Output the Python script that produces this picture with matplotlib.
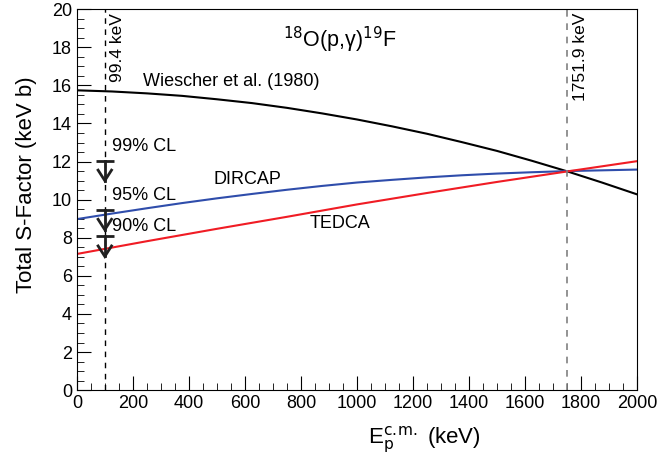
import matplotlib.pyplot as plt
import numpy as np
from matplotlib.ticker import MultipleLocator

plt.rcParams['font.family'] = ['Liberation Sans', 'DejaVu Sans']

# curves
e_wiescher = [0, 125, 250, 375, 500, 625, 750, 875, 1000, 1125, 1250, 1375, 1500, 1625, 1750, 1875, 2000]
s_wiescher = [15.74, 15.68, 15.58, 15.45, 15.27, 15.07, 14.82, 14.53, 14.21, 13.85, 13.46, 13.02,
              12.56, 12.04, 11.49, 10.90, 10.28]

e_dircap = [0, 125, 250, 375, 500, 625, 750, 875, 1000, 1125, 1250, 1375, 1500, 1625, 1750, 1875, 2000]
s_dircap = [8.98, 9.27, 9.55, 9.82, 10.07, 10.3, 10.52, 10.72, 10.9, 11.04, 11.17, 11.28,
            11.37, 11.44, 11.5, 11.54, 11.58]

e_tedca = [0, 250, 500, 750, 1000, 1250, 1500, 1750, 2000]
s_tedca = [7.15, 7.82, 8.47, 9.1, 9.75, 10.35, 10.93, 11.48, 12.02]

# upper limits at 99.4 keV
cl_names = ['99% CL', '95% CL', '90% CL']
cl_limits = [12.05, 9.47, 8.07]
cl_text_y = [12.8, 10.2, 8.58]

res_energies = [99.4, 1751.9]
res_labels = ['99.4 keV', '1751.9 keV']

fig = plt.figure(figsize=(6.58, 4.59), dpi=100)
ax = fig.add_axes([0.117, 0.150, 0.851, 0.830])

ax.plot(e_wiescher, s_wiescher, color='black', lw=1.5)
ax.plot(e_dircap, s_dircap, color='#2f4dab', lw=1.5)
ax.plot(e_tedca, s_tedca, color='#f01c24', lw=1.5)

ax.axvline(res_energies[0], color='black', ls=(0, (4, 4)), lw=1)
ax.axvline(res_energies[1], color='#808080', ls=(0, (4, 4)), lw=1.2)
ax.text(res_energies[0] + 18, 19.8, res_labels[0], rotation=90, va='top', ha='left', fontsize=12.5)
ax.text(res_energies[1] + 18, 19.8, res_labels[1], rotation=90, va='top', ha='left', fontsize=12.5)

# upper limit arrows: bar, shaft and open head
x0 = res_energies[0]
for name, lim, ty in zip(cl_names, cl_limits, cl_text_y):
    tip = lim - 1.05
    ax.plot([x0 - 32, x0 + 32], [lim, lim], color='#202020', lw=2, solid_capstyle='butt')
    ax.plot([x0, x0], [lim, tip], color='#202020', lw=2)
    ax.plot([x0 - 24, x0, x0 + 24], [tip + 0.55, tip, tip + 0.55], color='#202020', lw=2,
            solid_joinstyle='miter')
    ax.text(125, ty, name, fontsize=13, va='center', ha='left')

ax.text(236, 16.2, 'Wiescher et al. (1980)', fontsize=13, va='center', ha='left')
ax.text(486, 11.05, 'DIRCAP', fontsize=13, va='center', ha='left')
ax.text(832, 8.74, 'TEDCA', fontsize=13, va='center', ha='left')
ax.text(940, 18.4, '$^{18}$O(p,γ)$^{19}$F', fontsize=15.5, va='center', ha='center')

ax.set_xlim(0, 2000)
ax.set_ylim(0, 20)
ax.xaxis.set_major_locator(MultipleLocator(200))
ax.xaxis.set_minor_locator(MultipleLocator(50))
ax.yaxis.set_major_locator(MultipleLocator(2))
ax.yaxis.set_minor_locator(MultipleLocator(0.5))
ax.tick_params(which='both', direction='in', top=False, right=False, labelsize=13)
ax.tick_params(which='major', length=10)
ax.tick_params(which='minor', length=5)

ax.set_xlabel(r'E$_{\rm p}^{\rm c.\!m.}$ (keV)', fontsize=16)
ax.set_ylabel('Total S-Factor (keV b)', fontsize=16)
ax.xaxis.set_label_coords(0.62, -0.09)
ax.yaxis.set_label_coords(-0.072, 0.54)

fig.savefig('out.png', dpi=100)
